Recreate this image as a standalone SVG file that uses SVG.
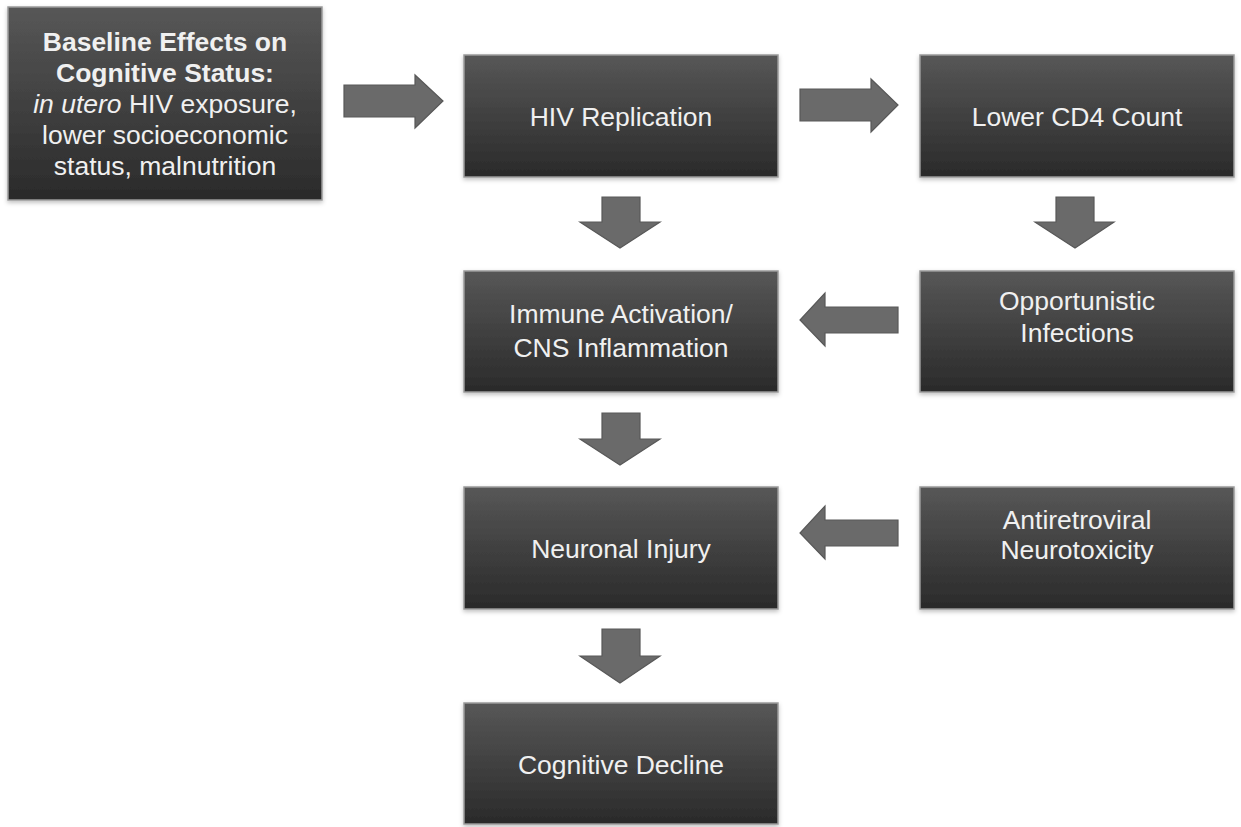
<svg xmlns="http://www.w3.org/2000/svg" width="1241" height="827" viewBox="0 0 1241 827">
<defs>
<linearGradient id="g" x1="0" y1="0" x2="0" y2="1">
<stop offset="0" stop-color="#575757"/>
<stop offset="1" stop-color="#2a2a2a"/>
</linearGradient>
<filter id="sh" x="-5%" y="-5%" width="110%" height="115%">
<feDropShadow dx="0" dy="2" stdDeviation="2" flood-color="#000" flood-opacity="0.25"/>
</filter>
</defs>
<style>
.box{fill:url(#g);stroke:#9a9a9a;stroke-width:1.5;filter:url(#sh)}
.t{font-family:"Liberation Sans",Arial,sans-serif;font-size:26.5px;fill:#f0f0f0;text-anchor:middle}
.b{font-weight:bold}
.i{font-style:italic}
.arr{fill:#6a6a6a;stroke:#585858;stroke-width:1.2}
</style>
<rect width="1241" height="827" fill="#fff"/>
<g id="connectors">
<polygon class="arr" points="344,85 415,85 415,75 443,101 415,128 415,117 344,117"/>
<polygon class="arr" points="800,89 871,89 871,79 898,105 871,132 871,121 800,121"/>
<polygon class="arr" points="602,197 640,197 640,222 660,222 620,248 580,222 602,222"/>
<polygon class="arr" points="1056,197 1094,197 1094,222 1114,222 1075,248 1035,222 1056,222"/>
<polygon class="arr" points="898,307 825,307 825,293 800,320 825,346 825,333 898,333"/>
<polygon class="arr" points="602,413 640,413 640,439 660,439 620,465 580,439 602,439"/>
<polygon class="arr" points="898,520 825,520 825,506 800,533 825,559 825,546 898,546"/>
<polygon class="arr" points="602,629 640,629 640,656 660,656 620,683 580,656 602,656"/>
</g>
<g id="baseline">
<rect class="box" x="8" y="7" width="314" height="193"/>
<text class="t b" x="165" y="51">Baseline Effects on</text>
<text class="t b" x="165" y="82">Cognitive Status:</text>
<text class="t" x="165" y="113"><tspan class="i">in utero</tspan> HIV exposure,</text>
<text class="t" x="165" y="144">lower socioeconomic</text>
<text class="t" x="165" y="175">status, malnutrition</text>
</g>
<g id="hiv">
<rect class="box" x="464" y="55" width="314" height="122"/>
<text class="t" x="621" y="126">HIV Replication</text>
</g>
<g id="cd4">
<rect class="box" x="920" y="55" width="314" height="122"/>
<text class="t" x="1077" y="126">Lower CD4 Count</text>
</g>
<g id="immune">
<rect class="box" x="464" y="271" width="314" height="121"/>
<text class="t" x="621" y="323">Immune Activation/</text>
<text class="t" x="621" y="357">CNS Inflammation</text>
</g>
<g id="oi">
<rect class="box" x="920" y="271" width="314" height="121"/>
<text class="t" x="1077" y="310">Opportunistic</text>
<text class="t" x="1077" y="342">Infections</text>
</g>
<g id="neuronal">
<rect class="box" x="464" y="487" width="314" height="122"/>
<text class="t" x="621" y="558">Neuronal Injury</text>
</g>
<g id="arv">
<rect class="box" x="920" y="487" width="314" height="122"/>
<text class="t" x="1077" y="529">Antiretroviral</text>
<text class="t" x="1077" y="559">Neurotoxicity</text>
</g>
<g id="decline">
<rect class="box" x="464" y="703" width="314" height="121"/>
<text class="t" x="621" y="774">Cognitive Decline</text>
</g>
</svg>
